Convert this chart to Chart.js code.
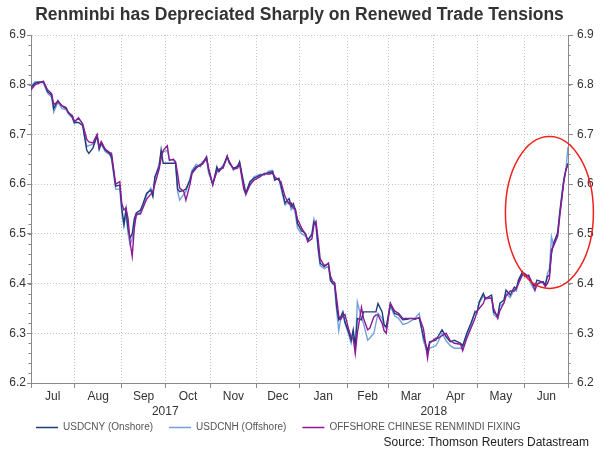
<!DOCTYPE html>
<html>
<head>
<meta charset="utf-8">
<script src="https://cdn.jsdelivr.net/npm/chart.js@4.4.1/dist/chart.umd.min.js"></script>
<style>
  html, body { margin: 0; padding: 0; background: #fff; }
</style>
</head>
<body>
<canvas id="chart" width="600" height="450"></canvas>
<script>
// weekday index since 3 Jul 2017 (business days)
const monthLabels = ['Jul', 'Aug', 'Sep', 'Oct', 'Nov', 'Dec', 'Jan', 'Feb', 'Mar', 'Apr', 'May', 'Jun'];
const monthStarts = [0, 21, 44, 65, 87, 109, 130, 153, 173, 195, 216, 239, 260];
const yearLabels = ['2017', '2018'];
const yTicks = [6.2, 6.3, 6.4, 6.5, 6.6, 6.7, 6.8, 6.9];

const days = [
  0, 2, 4, 6, 8, 10, 11, 13, 15, 17, 18, 20,
  21, 23, 25, 27, 28, 30, 32, 33, 34, 36, 38, 39, 41, 43,
  44, 45, 46, 47, 48, 49, 50, 51, 53, 54, 56, 58, 59, 60, 62, 63,
  64, 66, 67, 69, 70, 71, 72, 74, 75, 77, 78, 80, 82, 83, 85, 86,
  88, 90, 91, 93, 95, 96, 98, 100, 101, 103, 104, 106, 108,
  111, 113, 115, 117, 118, 120, 121, 123, 125, 126, 127, 128, 129,
  131, 132, 133, 134, 136, 137, 138, 139, 140, 142, 144, 145, 146, 147, 148, 149, 150, 151, 152,
  154, 155, 156, 157, 158, 160, 161, 163, 164, 166, 167, 168, 170, 171, 172,
  174, 176, 178, 180, 182, 184, 186, 187, 188, 190, 192, 193,
  196, 197, 199, 201, 203, 205, 208, 209, 211, 213, 215,
  216, 217, 219, 220, 223, 224, 226, 227, 229, 230, 232, 234, 235, 236, 238,
  239, 241, 242, 244, 245, 247, 248, 249, 250, 251, 252, 253, 255, 256, 257, 258, 259, 260
];

const usdcny = [
  6.795, 6.803, 6.805, 6.806, 6.786, 6.779, 6.752, 6.768, 6.757, 6.752, 6.745, 6.735,
  6.724, 6.724, 6.718, 6.668, 6.662, 6.673, 6.697, 6.670, 6.683, 6.668, 6.662, 6.655, 6.596, 6.598,
  6.550, 6.520, 6.550, 6.510, 6.492, 6.500, 6.530, 6.542, 6.548, 6.558, 6.582, 6.588, 6.575, 6.615, 6.635, 6.669,
  6.642, 6.642, 6.642, 6.642, 6.642, 6.590, 6.585, 6.588, 6.590, 6.608, 6.625, 6.635, 6.637, 6.642, 6.655, 6.628,
  6.598, 6.635, 6.625, 6.635, 6.657, 6.642, 6.632, 6.635, 6.645, 6.602, 6.582, 6.605, 6.612,
  6.618, 6.620, 6.623, 6.625, 6.608, 6.612, 6.598, 6.562, 6.571, 6.555, 6.561, 6.548, 6.521,
  6.506, 6.504, 6.498, 6.488, 6.498, 6.524, 6.518, 6.474, 6.441, 6.434, 6.441, 6.407, 6.400, 6.399, 6.353, 6.327, 6.333, 6.343, 6.323,
  6.300, 6.286, 6.307, 6.275, 6.330, 6.327, 6.343, 6.343, 6.343, 6.343, 6.343, 6.360, 6.343, 6.317, 6.313,
  6.360, 6.340, 6.337, 6.327, 6.328, 6.330, 6.328, 6.330, 6.330, 6.293, 6.265, 6.283,
  6.286, 6.293, 6.307, 6.293, 6.283, 6.286, 6.280, 6.275, 6.300, 6.320, 6.343,
  6.343, 6.363, 6.380, 6.370, 6.377, 6.343, 6.335, 6.360, 6.367, 6.387, 6.377, 6.393, 6.390, 6.407, 6.424,
  6.414, 6.417, 6.404, 6.395, 6.407, 6.404, 6.404, 6.397, 6.414, 6.417, 6.460, 6.481, 6.501, 6.541, 6.575, 6.608, 6.628, 6.642
];

const usdcnh = [
  6.797, 6.806, 6.806, 6.804, 6.783, 6.775, 6.745, 6.765, 6.752, 6.750, 6.742, 6.733,
  6.722, 6.734, 6.720, 6.675, 6.678, 6.680, 6.699, 6.672, 6.680, 6.665, 6.660, 6.650, 6.590, 6.590,
  6.540, 6.515, 6.540, 6.500, 6.478, 6.490, 6.522, 6.536, 6.545, 6.552, 6.578, 6.592, 6.580, 6.612, 6.640, 6.660,
  6.665, 6.668, 6.650, 6.648, 6.640, 6.585, 6.568, 6.580, 6.585, 6.612, 6.628, 6.640, 6.635, 6.645, 6.650, 6.622,
  6.602, 6.630, 6.628, 6.638, 6.652, 6.645, 6.628, 6.638, 6.642, 6.595, 6.578, 6.600, 6.615,
  6.620, 6.618, 6.626, 6.628, 6.612, 6.610, 6.592, 6.558, 6.565, 6.548, 6.555, 6.540, 6.512,
  6.500, 6.498, 6.495, 6.485, 6.502, 6.530, 6.515, 6.468, 6.436, 6.430, 6.435, 6.405, 6.402, 6.395, 6.345, 6.305, 6.330, 6.340, 6.320,
  6.295, 6.280, 6.300, 6.270, 6.363, 6.330, 6.320, 6.286, 6.290, 6.300, 6.320, 6.340, 6.330, 6.315, 6.310,
  6.355, 6.335, 6.330, 6.318, 6.320, 6.325, 6.330, 6.336, 6.340, 6.285, 6.260, 6.270,
  6.275, 6.282, 6.300, 6.285, 6.275, 6.270, 6.270, 6.270, 6.295, 6.315, 6.345,
  6.340, 6.360, 6.375, 6.368, 6.372, 6.338, 6.330, 6.355, 6.360, 6.380, 6.372, 6.388, 6.385, 6.402, 6.420,
  6.418, 6.410, 6.400, 6.385, 6.400, 6.402, 6.400, 6.395, 6.420, 6.430, 6.494, 6.478, 6.505, 6.545, 6.580, 6.612, 6.630, 6.675
];

const cnyFixing = [
  6.790, 6.800, 6.803, 6.807, 6.790, 6.782, 6.760, 6.766, 6.758, 6.754, 6.744, 6.738,
  6.726, 6.733, 6.722, 6.690, 6.685, 6.683, 6.700, 6.675, 6.686, 6.670, 6.664, 6.662, 6.600, 6.605,
  6.560, 6.548, 6.552, 6.530, 6.482, 6.455, 6.510, 6.540, 6.540, 6.550, 6.570, 6.580, 6.585, 6.600, 6.630, 6.652,
  6.668, 6.677, 6.648, 6.650, 6.645, 6.620, 6.592, 6.585, 6.568, 6.600, 6.622, 6.632, 6.640, 6.640, 6.652, 6.632,
  6.600, 6.625, 6.630, 6.632, 6.655, 6.646, 6.630, 6.632, 6.640, 6.590, 6.580, 6.598, 6.608,
  6.615, 6.622, 6.620, 6.622, 6.615, 6.608, 6.605, 6.575, 6.560, 6.562, 6.552, 6.550, 6.530,
  6.512, 6.505, 6.500, 6.484, 6.490, 6.518, 6.525, 6.490, 6.450, 6.436, 6.440, 6.415, 6.405, 6.402, 6.370, 6.335, 6.328, 6.335, 6.338,
  6.305, 6.292, 6.290, 6.259, 6.300, 6.352, 6.330, 6.307, 6.310, 6.333, 6.337, 6.337, 6.320, 6.305, 6.300,
  6.360, 6.345, 6.340, 6.330, 6.330, 6.330, 6.330, 6.330, 6.332, 6.310, 6.250, 6.280,
  6.290, 6.290, 6.295, 6.300, 6.285, 6.280, 6.278, 6.265, 6.290, 6.310, 6.330,
  6.345, 6.350, 6.360, 6.372, 6.370, 6.350, 6.330, 6.345, 6.362, 6.375, 6.385, 6.385, 6.392, 6.400, 6.418,
  6.420, 6.414, 6.408, 6.387, 6.398, 6.404, 6.402, 6.394, 6.400, 6.410, 6.468, 6.475, 6.495, 6.535, 6.570, 6.605, 6.630, 6.638
];

const sourceText = 'Source: Thomson Reuters Datastream';

// red ring drawn round the June move
const highlight = { day: 251, value: 6.543, rx: 44, ry: 76 };

const axisColor = '#8a8a8a';
const gridColor = '#c4c4c4';
const textColor = '#333333';
const fontFamily = "'Liberation Sans', Arial, sans-serif";

function points(values) {
  return values.map((v, i) => ({ x: days[i], y: v }));
}

const monthMids = monthLabels.map((m, i) => (monthStarts[i] + monthStarts[i + 1]) / 2);
const yearMids = [(monthStarts[0] + monthStarts[6]) / 2, (monthStarts[6] + monthStarts[12]) / 2];
const labelTicks = monthMids.map((v, i) => ({ value: v, label: monthLabels[i] }))
  .concat(yearMids.map((v, i) => ({ value: v, label: ['', yearLabels[i]] })))
  .sort((a, b) => a.value - b.value);

const minorTicks = {
  id: 'minorTicks',
  afterDraw(chart) {
    const ctx = chart.ctx;
    ctx.save();
    ctx.strokeStyle = axisColor;
    ctx.lineWidth = 1;
    ['y', 'y2'].forEach(id => {
      const s = chart.scales[id];
      const x0 = id === 'y' ? s.right : s.left;
      const dir = id === 'y' ? -1 : 1;
      for (let k = 0; k <= 35; k++) {
        const py = Math.round(s.getPixelForValue(6.2 + k * 0.02)) + 0.5;
        ctx.beginPath();
        ctx.moveTo(x0, py);
        ctx.lineTo(x0 + dir * 2.5, py);
        ctx.stroke();
      }
    });
    ctx.restore();
  }
};

const circleNote = {
  id: 'circleNote',
  afterDraw(chart) {
    const { ctx, scales: { x, y } } = chart;
    const cx = x.getPixelForValue(highlight.day);
    const cy = y.getPixelForValue(highlight.value);
    ctx.save();
    ctx.strokeStyle = '#f0221e';
    ctx.lineWidth = 1.5;
    ctx.beginPath();
    ctx.ellipse(cx, cy, highlight.rx, highlight.ry, 0, 0, Math.PI * 2);
    ctx.stroke();
    ctx.restore();
  }
};

// legend row and source line under the axis labels
const footer = {
  id: 'footer',
  afterDraw(chart) {
    const ctx = chart.ctx;
    ctx.save();
    ctx.font = '10px ' + fontFamily;
    ctx.textBaseline = 'middle';
    ctx.textAlign = 'left';
    let x = 36;
    const y = 427;
    chart.data.datasets.forEach(ds => {
      ctx.strokeStyle = ds.borderColor;
      ctx.lineWidth = 1.5;
      ctx.beginPath();
      ctx.moveTo(x, y + 0.5);
      ctx.lineTo(x + 22, y + 0.5);
      ctx.stroke();
      ctx.fillStyle = '#555555';
      ctx.fillText(ds.label, x + 27, y);
      x += 27 + ctx.measureText(ds.label).width + 16;
    });
    ctx.font = '12px ' + fontFamily;
    ctx.fillStyle = '#222222';
    ctx.textAlign = 'right';
    ctx.fillText(sourceText, 589, 443);
    ctx.restore();
  }
};

const yAxisCommon = {
  type: 'linear',
  min: 6.2,
  max: 6.9,
  afterBuildTicks: axis => { axis.ticks = yTicks.map(v => ({ value: v })); },
  border: { color: axisColor, width: 1, dash: [1, 2] },
  ticks: {
    color: textColor,
    font: { family: fontFamily, size: 12 },
    callback: v => v.toFixed(1)
  }
};

new Chart(document.getElementById('chart'), {
  type: 'line',
  data: {
    datasets: [
      {
        label: 'USDCNY (Onshore)',
        data: points(usdcny),
        borderColor: '#1d3c78',
        borderWidth: 1.4,
        order: 2
      },
      {
        label: 'USDCNH (Offshore)',
        data: points(usdcnh),
        borderColor: '#74a0dc',
        borderWidth: 1.4,
        order: 3
      },
      {
        label: 'OFFSHORE CHINESE RENMINDI FIXING',
        data: points(cnyFixing),
        borderColor: '#8c1a98',
        borderWidth: 1.4,
        order: 1
      }
    ]
  },
  options: {
    responsive: false,
    animation: false,
    elements: {
      point: { radius: 0 },
      line: { tension: 0 }
    },
    layout: { padding: { left: 0, right: 0, top: 0, bottom: 30 } },
    scales: {
      x: {
        type: 'linear',
        min: 0,
        max: 260,
        weight: 0,
        afterBuildTicks: axis => { axis.ticks = monthStarts.map(v => ({ value: v })); },
        ticks: { display: false },
        grid: { color: gridColor, tickColor: axisColor, tickLength: 5, drawTicks: true },
        border: { color: axisColor, width: 1, dash: [1, 2] }
      },
      xLabels: {
        type: 'linear',
        position: 'bottom',
        min: 0,
        max: 260,
        weight: 1,
        afterBuildTicks: axis => { axis.ticks = labelTicks.map(t => ({ value: t.value })); },
        afterFit: axis => { axis.height = 32; },
        grid: { display: false, drawTicks: false },
        border: { display: false },
        ticks: {
          autoSkip: false,
          maxRotation: 0,
          padding: 1,
          color: textColor,
          font: { family: fontFamily, size: 12, lineHeight: 1.275 },
          callback: v => {
            const t = labelTicks.find(t => Math.abs(t.value - v) < 1e-6);
            return t ? t.label : '';
          }
        }
      },
      y: Object.assign({}, yAxisCommon, {
        position: 'left',
        afterFit: axis => { axis.width = 31; },
        grid: { color: gridColor, tickColor: axisColor, tickLength: 4 },
        ticks: Object.assign({}, yAxisCommon.ticks, { padding: 1 })
      }),
      y2: Object.assign({}, yAxisCommon, {
        position: 'right',
        afterFit: axis => { axis.width = 32; },
        grid: { drawOnChartArea: false, tickColor: axisColor, tickLength: 5 },
        ticks: Object.assign({}, yAxisCommon.ticks, { padding: 4 })
      })
    },
    plugins: {
      title: {
        display: true,
        text: 'Renminbi has Depreciated Sharply on Renewed Trade Tensions',
        fullSize: false,
        color: '#333333',
        font: { family: fontFamily, size: 17.5, weight: 'bold', lineHeight: 1.2 },
        padding: { top: 4.5, bottom: 9.5 }
      },
      legend: { display: false },
      tooltip: { enabled: false }
    }
  },
  plugins: [minorTicks, circleNote, footer]
});
</script>
</body>
</html>
